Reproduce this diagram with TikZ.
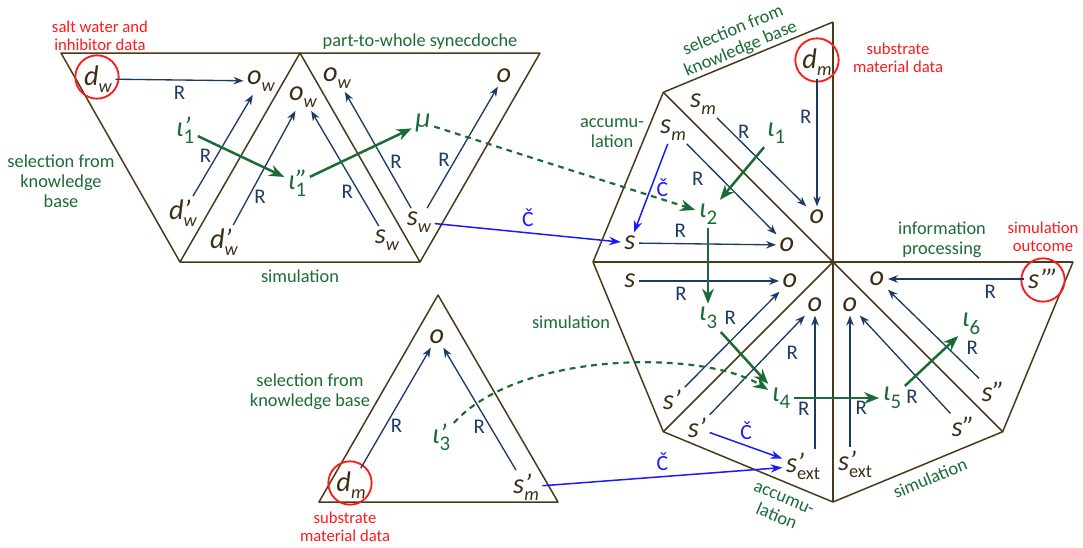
\documentclass[tikz,border=0pt]{standalone}
\usepackage{fontspec}
\setmainfont{Carlito}
\usepackage{tikz}
\usetikzlibrary{arrows.meta}

\definecolor{edgebrown}{HTML}{4B3A1A}
\definecolor{varbrown}{HTML}{3B2E14}
\definecolor{relblue}{HTML}{1B3A66}
\definecolor{idgreen}{HTML}{1A6B35}
\definecolor{convblue}{HTML}{1A1AFF}
\definecolor{datared}{HTML}{FF1A1A}

\newcommand{\subx}[1]{\raisebox{-4pt}{\fontsize{11}{11}\selectfont #1}}
\newcommand{\subd}[1]{\raisebox{-4.5pt}{\fontsize{12.5}{12.5}\selectfont\upshape #1}}
\newcommand{\primsub}[2]{\rlap{#1}\subx{#2}}
\newcommand{\primsubd}[2]{\rlap{#1}\subd{#2}}

\begin{document}
\begin{tikzpicture}[x=0.6pt, y=-0.6pt,
    var/.style={text=varbrown, font=\fontsize{17}{17}\selectfont\itshape, inner sep=2pt},
    gvar/.style={var, text=idgreen},
    lab/.style={text=idgreen, font=\fontsize{11}{12}\selectfont, align=center},
    rlab/.style={lab, text=datared, font=\fontsize{10}{10.8}\selectfont},
    rl/.style={text=relblue, font=\fontsize{12.5}{12.5}\selectfont, inner sep=3pt},
    cl/.style={text=convblue, font=\fontsize{13}{13}\selectfont, inner sep=3pt},
    tri/.style={draw=edgebrown, line width=0.9pt, line join=round},
    rel/.style={draw=relblue, line width=0.8pt, -{Stealth[length=6pt, width=4.5pt]}},
    idea/.style={draw=idgreen, line width=1.5pt, -{Stealth[length=9pt, width=7pt]}},
    hint/.style={draw=idgreen, line width=1.3pt, dash pattern=on 3.5pt off 3pt, -{Stealth[length=9pt, width=7pt]}},
    conv/.style={draw=convblue, line width=0.9pt, -{Stealth[length=7pt, width=5pt]}},
    ring/.style={circle, draw=datared, line width=1.1pt, minimum size=26pt, inner sep=0pt}]

    \useasboundingbox (0,0) rectangle (1083,547);

    % left block
    \draw[tri] (61,53) -- (540,53) -- (420,262) -- (180,262) -- cycle;
    \draw[tri] (180,262) -- (300,53) -- (420,262);

    \node[var] (dw) at (98,79) {d\subx{w}};
    \node[ring] (rdw) at (97,77) {};
    \node[var] (ow1) at (261,81) {o\subx{w}};
    \node[gvar] (ip1) at (185,130) {ι\primsubd{’}{1}};
    \node[gvar] (ipp1) at (297,183) {ι\primsubd{”}{1}};
    \node[var] (dpw1) at (183,213) {d\primsub{’}{w}};
    \node[var] (dpw2) at (224,242) {d\primsub{’}{w}};
    \node[var] (ow2) at (303,97) {o\subx{w}};
    \node[var] (sw1) at (387,240) {s\subx{w}};
    \node[var] (ow3) at (337,78) {o\subx{w}};
    \node[var] (sw2) at (419,222) {s\subx{w}};
    \node[var] (o1) at (504,76) {o};
    \node[gvar] (mu) at (423,123) {μ};

    \node[rlab] (saltlab) at (100,36) {salt water and\\inhibitor data};
    \node[lab] (sel1) at (61,181) {selection from\\knowledge\\base};
    \node[lab] (synlab) at (420,42) {part-to-whole synecdoche};
    \node[lab] (sim1) at (300,276) {simulation};

    \draw[rel] (dw) -- node[rl, below] {R} (ow1);
    \draw[rel] (dpw1) -- node[rl, pos=0.4, left] {R} (ow1);
    \draw[rel] (dpw2) -- node[rl, pos=0.25, right] {R} (ow2);
    \draw[rel] (sw1) -- node[rl, pos=0.3, left] {R} (ow2);
    \draw[rel] (sw2) -- node[rl, pos=0.4, right] {R} (ow3);
    \draw[rel] (sw2) -- node[rl, pos=0.4, left] {R} (o1);
    \draw[idea] (ip1) -- (ipp1);
    \draw[idea] (ipp1) -- (mu);

    % bottom triangle
    \draw[tri] (319,502) -- (558,502) -- (438,295) -- cycle;

    \node[var] (o2) at (437,337) {o};
    \node[var] (dm1) at (351,485) {d\subx{m}};
    \node[ring] (rdm1) at (350,483) {};
    \node[var] (spm) at (526,487) {s\primsub{’}{m}};
    \node[gvar] (ip3) at (441,437) {ι\primsubd{’}{3}};

    \node[lab] (sel2) at (310,392) {selection from\\knowledge base};
    \node[rlab] (sublab1) at (345,527) {substrate\\material data};

    \draw[rel] (dm1) -- node[rl, pos=0.35, right] {R} (o2);
    \draw[rel] (spm) -- node[rl, pos=0.35, left] {R} (o2);

    % octagon
    \coordinate (c) at (833,262);
    \coordinate (p0) at (1073,262);
    \coordinate (p90) at (833,22);
    \coordinate (p135) at (663.3,92.3);
    \coordinate (p180) at (593,262);
    \coordinate (p225) at (663.3,431.7);
    \coordinate (p270) at (833,502);
    \coordinate (p315) at (1002.7,431.7);

    \draw[tri] (p90) -- (p135) -- (p180) -- (p225) -- (p270) -- (p315) -- (p0);
    \foreach \p in {p0,p90,p135,p180,p225,p270,p315}
        \draw[tri] (c) -- (\p);

    \node[var] (dm2) at (817,62) {d\subx{m}};
    \node[ring] (rdm2) at (817,60) {};
    \node[var] (o3) at (817,217) {o};
    \node[var] (sm1) at (703,104) {s\subx{m}};
    \node[gvar] (i1) at (776,133) {ι\subd{1}};
    \node[var] (sm2) at (673,130) {s\subx{m}};
    \node[var] (o4) at (787,245) {o};
    \node[gvar] (i2) at (708,214) {ι\subd{2}};
    \node[var] (s1) at (630,243) {s};
    \node[var] (s2) at (630,281) {s};
    \node[var] (o6) at (790,281) {o};
    \node[var] (sp1) at (672,400) {s’};
    \node[gvar] (i3) at (708,318) {ι\subd{3}};
    \node[var] (o7) at (815,305) {o};
    \node[var] (sp2) at (697,428) {s’};
    \node[var] (sext1) at (803,466) {s\primsub{’}{\upshape ext}};
    \node[gvar] (i4) at (781,398) {ι\subd{4}};
    \node[var] (o8) at (850,305) {o};
    \node[var] (sext2) at (855,464) {s\primsub{’}{\upshape ext}};
    \node[var] (spp1) at (963,427) {s”};
    \node[gvar] (i5) at (892,398) {ι\subd{5}};
    \node[var] (o9) at (877,279) {o};
    \node[var] (sppp) at (1043,279) {s’”};
    \node[ring] (rsppp) at (1043,280) {};
    \node[var] (spp2) at (993,392) {s”};
    \node[gvar] (i6) at (971,324) {ι\subd{6}};

    \node[lab, rotate=22.5] (sel3) at (737,40) {selection from\\knowledge base};
    \node[rlab] (sublab2) at (898,58) {substrate\\material data};
    \node[lab] (acc1) at (612,133) {accumu-\\lation};
    \node[lab] (sim2) at (571,322) {simulation};
    \node[lab, rotate=-22.5] (acc2) at (780,508) {accumu-\\lation};
    \node[lab, rotate=22.5] (sim3) at (930,478) {simulation};
    \node[lab] (infolab) at (942,240) {information\\processing};
    \node[rlab] (outlab) at (1043,237) {simulation\\outcome};

    \draw[rel] (dm2) -- node[rl, pos=0.3, left] {R} (o3);
    \draw[rel] (sm1) -- node[rl, pos=0.3, above] {R} (o3);
    \draw[rel] (sm2) -- node[rl, pos=0.25, below left] {R} (o4);
    \draw[rel] (s1) -- node[rl, pos=0.3, above] {R} (o4);
    \draw[rel] (s2) -- node[rl, pos=0.3, below] {R} (o6);
    \draw[rel] (sp1) -- node[rl, pos=0.6, above left] {R} (o6);
    \draw[rel] (sp2) -- node[rl, pos=0.75, below right] {R} (o7);
    \draw[rel] (o7 |- sext1.north) -- node[rl, pos=0.3, left] {R} (o7);
    \draw[rel] (o8 |- sext2.north) -- node[rl, pos=0.3, right] {R} (o8);
    \draw[rel] (spp1) -- node[rl, pos=0.3, below left] {R} (o8);
    \draw[rel] (sppp) -- node[rl, pos=0.25, below] {R} (o9);
    \draw[rel] (spp2) -- node[rl, pos=0.2, above right] {R} (o9);

    \draw[idea] (i1) -- (i2);
    \draw[idea] (i2) -- (i3);
    \draw[idea] (i3) -- (i4);
    \draw[idea] (i4) -- (i5);
    \draw[idea] (i5) -- (i6);

    \draw[conv] (sm2) -- node[cl, right] {Č} (s1);
    \draw[conv] (sp2) -- node[cl, above] {Č} (sext1);
    \draw[conv] (sw2) -- node[cl, above] {Č} (s1);
    \draw[conv] (spm) -- node[cl, above] {Č} (sext1);

    \draw[hint] (mu) -- (i2);
    \draw[hint] (ip3) .. controls (520,350) and (705,350) .. (i4);
\end{tikzpicture}
\end{document}
